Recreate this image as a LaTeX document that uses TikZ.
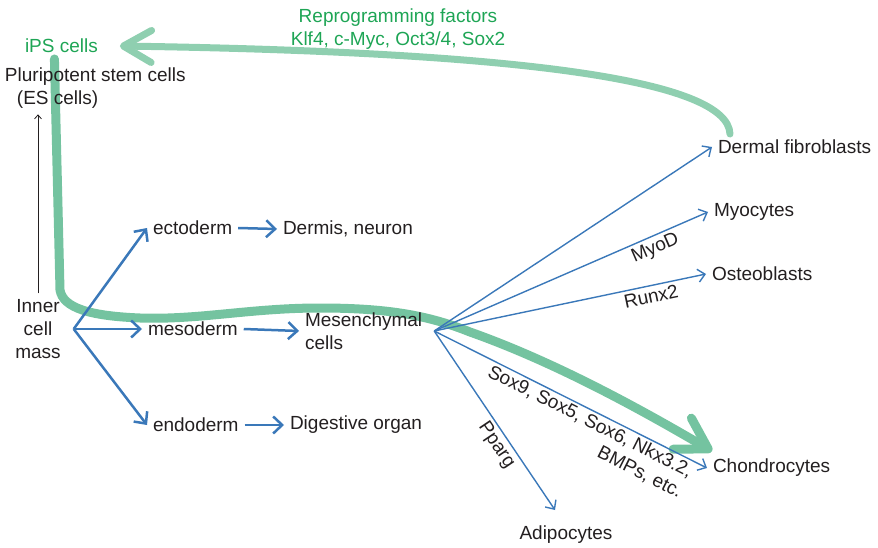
\documentclass[tikz,border=0pt]{standalone}
\usepackage{fontspec}
\setmainfont{Liberation Sans}
\usetikzlibrary{arrows.meta}
\pgfdeclarelayer{background}
\pgfsetlayers{background,main}
\definecolor{txt}{RGB}{35,31,32}
\definecolor{grtxt}{RGB}{30,165,85}
\definecolor{gr1}{RGB}{116,195,160}
\definecolor{gr2}{RGB}{143,207,176}
\definecolor{bl}{RGB}{58,120,185}
\tikzset{
 lbl/.style={inner sep=0pt, outer sep=6pt, text=txt, font=\fontsize{19}{23}\selectfont},
 glbl/.style={lbl, text=grtxt},
 fac/.style={inner sep=4pt, outer sep=0pt, text=txt, font=\fontsize{19}{23}\selectfont},
 thickarr/.style={draw=bl, line width=2.5pt, -{Straight Barb[length=9pt,width=17pt]}},
 thinarr/.style={draw=bl, line width=1.4pt, -{Straight Barb[length=7pt,width=13pt]}},
 blackarr/.style={draw=txt, line width=0.8pt, -{Straight Barb[length=4pt,width=7pt]}},
 greenbig/.style={draw=gr1, line width=9pt, line cap=round, -{Straight Barb[length=30pt,width=36pt,round]}},
 greentop/.style={draw=gr2, line width=7pt, line cap=round, -{Straight Barb[length=28pt,width=32pt,round]}},
}
\begin{document}
\begin{tikzpicture}[x=1pt,y=-1pt]
\useasboundingbox (0,0) rectangle (878,548);
% nodes
\node[glbl, anchor=west] (ips) at (19,46) {iPS cells};
\node[lbl, anchor=west, align=left] (es) at (-1,88) {Pluripotent stem cells\\\hspace*{12pt}(ES cells)};
\node[glbl, align=center] (rep) at (398,29) {Reprogramming factors\\Klf4, c-Myc, Oct3/4, Sox2};
\node[lbl, align=center] (icm) at (38,329) {Inner\\cell\\mass};
\node[lbl, anchor=west] (ecto) at (147,228) {ectoderm};
\node[lbl, anchor=west] (dermis) at (277,229) {Dermis, neuron};
\node[lbl, anchor=west] (meso) at (142,329) {mesoderm};
\node[lbl, anchor=west, align=left] (mesen) at (299,331) {Mesenchymal\\cells};
\node[lbl, anchor=west] (endo) at (147,425) {endoderm};
\node[lbl, anchor=west] (digest) at (284,425) {Digestive organ};
\node[lbl, anchor=west] (dermal) at (712,147) {Dermal fibroblasts};
\node[lbl, anchor=west] (myo) at (708,212) {Myocytes};
\node[lbl, anchor=west] (osteo) at (706,274) {Osteoblasts};
\node[lbl, anchor=west] (chondro) at (707,468) {Chondrocytes};
\node[lbl, anchor=north] (adipo) at (566,520) {Adipocytes};
\coordinate (hub) at ([xshift=6pt]mesen.east);
% green paths (behind texts)
\begin{pgfonlayer}{background}
\draw[greentop] ([xshift=18pt]dermal.north west) .. controls (728,80) and (520,52) .. ([xshift=16pt]ips.east);
\draw[greenbig] ([xshift=-7pt]ips.south) -- (60,290) .. controls (63,308) and (90,316) .. (140,318)
  .. controls (200,320) and (250,308) .. (320,308) .. controls (390,308) and (430,316) .. (470,332)
  .. controls (555,362) and (642,410) .. ([xshift=5pt,yshift=2pt]chondro.north west);
\end{pgfonlayer}
% blue arrows
\draw[thickarr] ([xshift=7pt]icm.east) -- (ecto.west);
\draw[thickarr] ([xshift=7pt]icm.east) -- (meso.west);
\draw[thickarr] ([xshift=7pt]icm.east) -- (endo.west);
\draw[thickarr] (ecto.east) -- (dermis.west);
\draw[thickarr] (meso.east) -- (mesen.west);
\draw[thickarr] (endo.east) -- (digest.west);
\draw[blackarr] (icm.north) -- (icm.north |- es.south);
\draw[thinarr] (hub) -- (dermal.west);
\draw[thinarr] (hub) -- (myo.west) node[fac, pos=0.79, below, sloped] {MyoD};
\draw[thinarr] (hub) -- (osteo.west) node[fac, pos=0.79, below, sloped] {Runx2};
\draw[thinarr] (hub) -- (chondro.west) node[fac, pos=0.59, below, sloped, align=right, inner sep=3pt] {Sox9, Sox5, Sox6, Nkx3.2,\\BMPs, etc.};
\draw[thinarr] (hub) -- ([xshift=-11pt,yshift=10pt]adipo.north) node[fac, pos=0.6, below, sloped] {Pparg};
\end{tikzpicture}
\end{document}
